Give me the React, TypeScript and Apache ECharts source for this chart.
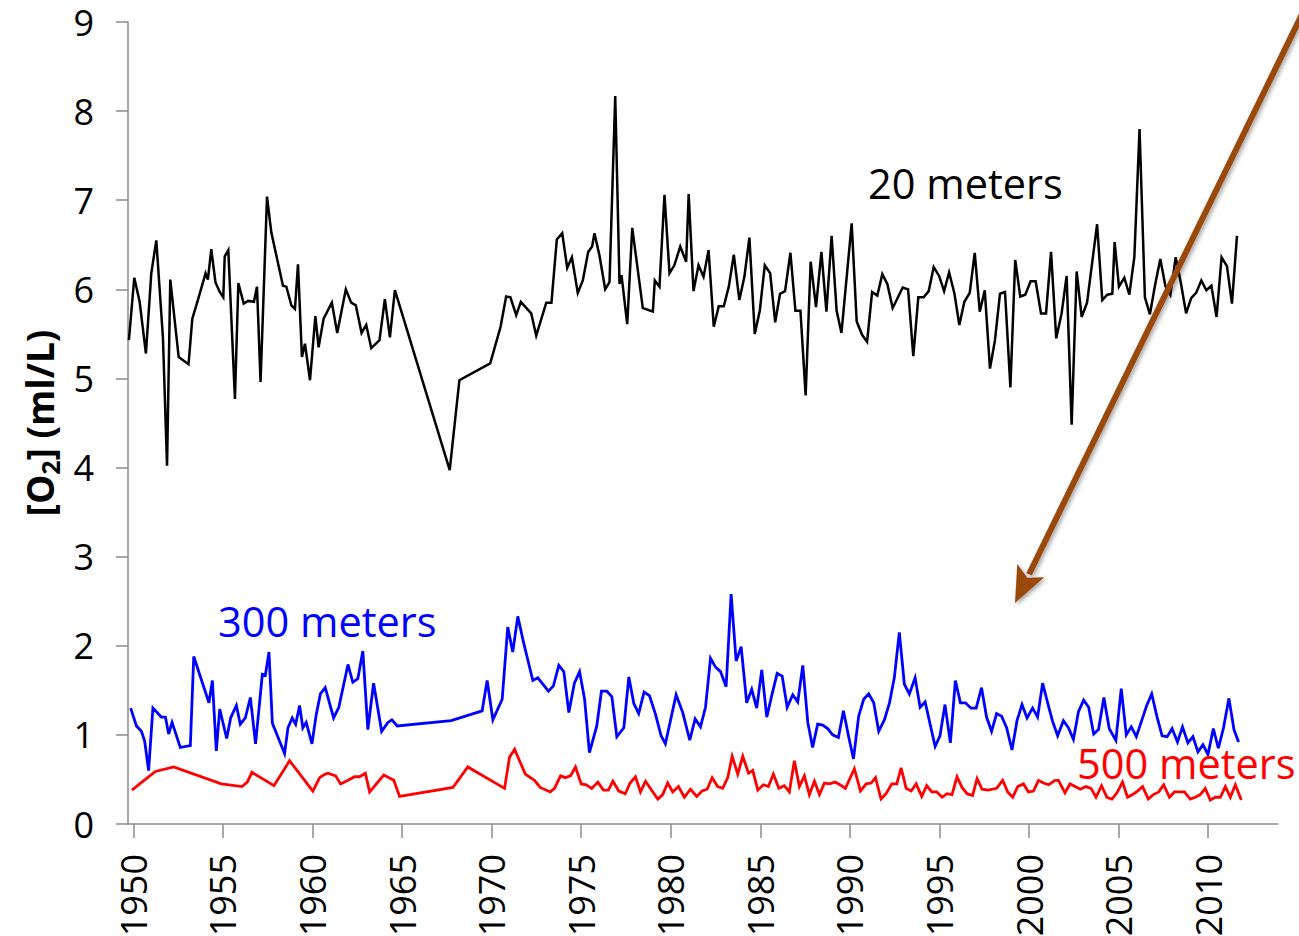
import React, { useEffect, useRef } from "react";
import * as echarts from "echarts";

// Year ticks shown on the horizontal axis
const yearTicks = [1950, 1955, 1960, 1965, 1970, 1975, 1980, 1985, 1990, 1995, 2000, 2005, 2010];

// Dissolved oxygen at 20 m depth
const o2At20mYears = [
  1949.75, 1950.05, 1950.35, 1950.7, 1951.0, 1951.28, 1951.65, 1951.88, 1952.06, 1952.53, 1953.08, 1953.29,
  1953.6, 1954.03, 1954.16, 1954.35, 1954.58, 1954.82, 1955.02, 1955.1, 1955.3, 1955.67, 1955.86, 1956.16,
  1956.4, 1956.73, 1956.9, 1957.1, 1957.46, 1957.7, 1958.35, 1958.54, 1958.82, 1959.02, 1959.19, 1959.41,
  1959.58, 1959.86, 1960.16, 1960.34, 1960.62, 1961.08, 1961.38, 1961.86, 1962.16, 1962.42, 1962.74, 1963.0,
  1963.28, 1963.74, 1964.04, 1964.32, 1964.6, 1967.66, 1968.2, 1969.92, 1970.5, 1970.81, 1971.05, 1971.37,
  1971.63, 1972.21, 1972.49, 1973.05, 1973.34, 1973.64, 1973.94, 1974.22, 1974.48, 1974.81, 1975.09, 1975.39,
  1975.61, 1975.74, 1976.02, 1976.34, 1976.58, 1976.9, 1977.14, 1977.25, 1977.57, 1977.85, 1978.44, 1979.0,
  1979.11, 1979.37, 1979.65, 1979.93, 1980.2, 1980.53, 1980.86, 1981.0, 1981.27, 1981.55, 1981.83, 1982.11,
  1982.4, 1982.68, 1982.96, 1983.24, 1983.52, 1983.83, 1984.11, 1984.39, 1984.69, 1984.97, 1985.25, 1985.55,
  1985.83, 1986.1, 1986.38, 1986.68, 1986.96, 1987.24, 1987.53, 1987.81, 1988.11, 1988.41, 1988.69, 1988.98,
  1989.26, 1989.53, 1990.1, 1990.38, 1990.68, 1990.96, 1991.24, 1991.53, 1991.81, 1992.09, 1992.39, 1992.95,
  1993.25, 1993.54, 1993.82, 1994.12, 1994.4, 1994.68, 1994.98, 1995.26, 1995.54, 1995.83, 1996.11, 1996.39,
  1996.69, 1996.97, 1997.25, 1997.53, 1997.82, 1998.1, 1998.38, 1998.66, 1998.96, 1999.23, 1999.51, 1999.79,
  2000.09, 2000.37, 2000.67, 2000.95, 2001.23, 2001.52, 2001.82, 2002.1, 2002.38, 2002.66, 2002.94, 2003.24,
  2003.52, 2003.8, 2004.09, 2004.37, 2004.65, 2004.78, 2005.02, 2005.32, 2005.6, 2005.88, 2006.17, 2006.47,
  2006.75, 2007.03, 2007.33, 2007.61, 2007.89, 2008.19, 2008.47, 2008.77, 2009.05, 2009.33, 2009.62, 2009.9,
  2010.18, 2010.47, 2010.75, 2011.05, 2011.33, 2011.61,
];
const o2At20mValues = [
  5.43, 6.13, 5.86, 5.28, 6.18, 6.55, 5.46, 4.02, 6.11, 5.24, 5.16, 5.67,
  5.88, 6.18, 6.11, 6.45, 6.08, 5.97, 5.91, 6.37, 6.44, 4.77, 6.07, 5.84,
  5.87, 5.86, 6.03, 4.96, 7.04, 6.64, 6.04, 6.03, 5.82, 5.78, 6.28, 5.24,
  5.39, 4.98, 5.7, 5.35, 5.67, 5.85, 5.51, 6.0, 5.85, 5.82, 5.51, 5.6,
  5.34, 5.43, 5.89, 5.46, 5.99, 3.97, 4.98, 5.17, 5.58, 5.92, 5.91, 5.71,
  5.86, 5.73, 5.48, 5.85, 5.85, 6.56, 6.63, 6.24, 6.36, 5.96, 6.1, 6.42,
  6.48, 6.63, 6.38, 6.0, 6.08, 8.17, 6.06, 6.16, 5.61, 6.69, 5.79, 5.75,
  6.1, 6.03, 7.06, 6.18, 6.27, 6.48, 6.31, 7.07, 5.98, 6.27, 6.14, 6.44,
  5.58, 5.81, 5.81, 6.03, 6.39, 5.88, 6.14, 6.58, 5.5, 5.76, 6.27, 6.18,
  5.63, 5.95, 5.98, 6.41, 5.76, 5.76, 4.81, 6.31, 5.8, 6.42, 5.75, 6.6,
  5.76, 5.51, 6.74, 5.64, 5.49, 5.41, 5.97, 5.93, 6.17, 6.06, 5.79, 6.02,
  6.0, 5.25, 5.91, 5.91, 5.98, 6.25, 6.15, 5.98, 6.19, 5.96, 5.6, 5.86,
  5.96, 6.41, 5.75, 5.99, 5.11, 5.43, 5.95, 5.97, 4.9, 6.33, 5.92, 5.94,
  6.09, 6.09, 5.73, 5.73, 6.42, 5.45, 5.73, 6.15, 4.48, 6.2, 5.69, 5.85,
  6.29, 6.73, 5.88, 5.94, 5.95, 6.53, 6.03, 6.13, 5.94, 6.36, 7.8, 5.91,
  5.72, 6.04, 6.34, 6.04, 5.94, 6.36, 6.08, 5.73, 5.9, 5.96, 6.1, 5.99,
  6.04, 5.69, 6.36, 6.26, 5.84, 6.6,
];

// Dissolved oxygen at 300 m depth
const o2At300mYears = [
  1949.85, 1950.17, 1950.45, 1950.63, 1950.85, 1951.09, 1951.56, 1951.79, 1951.97, 1952.16, 1952.62, 1953.18,
  1953.37, 1954.22, 1954.41, 1954.63, 1954.82, 1955.21, 1955.43, 1955.75, 1955.97, 1956.25, 1956.53, 1956.82,
  1957.2, 1957.37, 1957.57, 1957.76, 1958.44, 1958.63, 1958.87, 1959.06, 1959.28, 1959.46, 1959.65, 1959.97,
  1960.21, 1960.44, 1960.71, 1961.18, 1961.47, 1961.98, 1962.25, 1962.53, 1962.81, 1963.09, 1963.41, 1963.86,
  1964.21, 1964.43, 1964.73, 1967.74, 1969.47, 1969.75, 1970.07, 1970.59, 1970.9, 1971.18, 1971.46, 1971.78,
  1972.3, 1972.58, 1973.17, 1973.45, 1973.75, 1974.03, 1974.31, 1974.62, 1974.91, 1975.19, 1975.46, 1975.87,
  1976.13, 1976.43, 1976.71, 1976.99, 1977.38, 1977.66, 1977.94, 1978.21, 1978.51, 1978.81, 1979.15, 1979.46,
  1979.7, 1980.3, 1980.67, 1981.06, 1981.36, 1981.66, 1981.94, 1982.22, 1982.5, 1982.78, 1983.09, 1983.37,
  1983.65, 1983.93, 1984.24, 1984.52, 1984.8, 1985.08, 1985.36, 1985.66, 1985.94, 1986.22, 1986.5, 1986.81,
  1987.09, 1987.37, 1987.65, 1987.92, 1988.2, 1988.48, 1988.76, 1989.04, 1989.36, 1989.64, 1989.92, 1990.2,
  1990.49, 1990.77, 1991.05, 1991.33, 1991.61, 1991.93, 1992.21, 1992.48, 1992.76, 1993.04, 1993.32, 1993.64,
  1993.92, 1994.2, 1994.48, 1994.76, 1995.03, 1995.31, 1995.61, 1995.89, 1996.17, 1996.45, 1996.76, 1997.05,
  1997.35, 1997.63, 1997.91, 1998.19, 1998.47, 1998.75, 1999.05, 1999.33, 1999.61, 1999.89, 2000.2, 2000.48,
  2000.76, 2001.04, 2001.32, 2001.6, 2001.92, 2002.2, 2002.48, 2002.76, 2003.05, 2003.33, 2003.61, 2003.88,
  2004.18, 2004.48, 2004.85, 2005.15, 2005.43, 2005.71, 2005.99, 2006.29, 2006.57, 2006.85, 2007.15, 2007.43,
  2007.71, 2007.99, 2008.29, 2008.57, 2008.87, 2009.15, 2009.43, 2009.71, 2009.99, 2010.29, 2010.57, 2010.86,
  2011.16, 2011.44, 2011.7,
];
const o2At300mValues = [
  1.3, 1.1, 1.04, 0.93, 0.6, 1.3, 1.2, 1.2, 1.01, 1.14, 0.86, 0.88,
  1.88, 1.36, 1.61, 0.82, 1.29, 0.96, 1.19, 1.33, 1.12, 1.19, 1.42, 0.9,
  1.68, 1.67, 1.93, 1.13, 0.79, 1.08, 1.19, 1.12, 1.33, 1.08, 1.14, 0.9,
  1.23, 1.46, 1.53, 1.19, 1.31, 1.79, 1.59, 1.63, 1.94, 1.06, 1.58, 1.04,
  1.14, 1.17, 1.1, 1.16, 1.27, 1.61, 1.17, 1.4, 2.21, 1.93, 2.33, 2.04,
  1.61, 1.64, 1.49, 1.55, 1.78, 1.71, 1.25, 1.58, 1.71, 1.4, 0.8, 1.1,
  1.49, 1.49, 1.43, 0.98, 1.08, 1.65, 1.35, 1.24, 1.48, 1.44, 1.23, 0.99,
  0.9, 1.45, 1.25, 0.94, 1.18, 1.09, 1.31, 1.86, 1.76, 1.71, 1.54, 2.58,
  1.83, 1.99, 1.36, 1.51, 1.3, 1.73, 1.2, 1.46, 1.69, 1.66, 1.31, 1.45,
  1.37, 1.78, 1.14, 0.86, 1.12, 1.11, 1.07, 1.0, 0.97, 1.27, 0.99, 0.73,
  1.21, 1.4, 1.46, 1.36, 1.04, 1.17, 1.36, 1.64, 2.15, 1.57, 1.46, 1.64,
  1.31, 1.37, 1.12, 0.87, 0.99, 1.34, 0.91, 1.61, 1.36, 1.36, 1.3, 1.3,
  1.53, 1.2, 1.04, 1.24, 1.21, 1.08, 0.83, 1.16, 1.34, 1.19, 1.3, 1.2,
  1.58, 1.36, 1.15, 0.99, 1.16, 1.08, 0.95, 1.26, 1.39, 1.31, 1.01, 1.06,
  1.42, 1.07, 0.94, 1.52, 1.0, 1.09, 0.98, 1.16, 1.33, 1.46, 1.2, 0.99,
  0.98, 1.07, 0.92, 1.09, 0.91, 0.98, 0.81, 0.89, 0.78, 1.07, 0.85, 1.08,
  1.41, 1.06, 0.92,
];

// Dissolved oxygen at 500 m depth
const o2At500mYears = [
  1949.92, 1950.35, 1951.23, 1952.25, 1954.91, 1956.06, 1956.36, 1956.62, 1957.85, 1958.72, 1960.02, 1960.4,
  1960.62, 1960.86, 1961.29, 1961.57, 1961.98, 1962.35, 1962.63, 1962.95, 1963.19, 1963.98, 1964.54, 1964.86,
  1967.84, 1968.67, 1970.72, 1971.0, 1971.28, 1971.88, 1972.39, 1972.71, 1973.27, 1973.51, 1973.85, 1974.11,
  1974.4, 1974.68, 1975.0, 1975.28, 1975.59, 1975.93, 1976.24, 1976.52, 1976.77, 1977.1, 1977.46, 1977.73,
  1978.03, 1978.31, 1978.59, 1979.0, 1979.28, 1979.55, 1979.83, 1980.11, 1980.43, 1980.76, 1981.1, 1981.45,
  1981.75, 1982.03, 1982.31, 1982.62, 1982.9, 1983.18, 1983.43, 1983.74, 1984.02, 1984.34, 1984.58, 1984.86,
  1985.17, 1985.45, 1985.73, 1986.03, 1986.34, 1986.62, 1986.9, 1987.18, 1987.46, 1987.74, 1988.02, 1988.3,
  1988.58, 1988.86, 1989.17, 1989.45, 1989.75, 1990.25, 1990.59, 1990.91, 1991.19, 1991.43, 1991.74, 1992.02,
  1992.34, 1992.62, 1992.86, 1993.14, 1993.42, 1993.7, 1994.01, 1994.29, 1994.57, 1994.85, 1995.15, 1995.42,
  1995.7, 1995.98, 1996.26, 1996.54, 1996.85, 1997.1, 1997.38, 1997.72, 1998.19, 1998.53, 1998.81, 1999.09,
  1999.37, 1999.69, 1999.97, 2000.25, 2000.53, 2000.81, 2001.09, 2001.45, 2001.64, 2002.01, 2002.29, 2002.58,
  2002.86, 2003.18, 2003.46, 2003.74, 2004.05, 2004.35, 2004.63, 2004.91, 2005.22, 2005.5, 2005.78, 2006.06,
  2006.34, 2006.66, 2006.94, 2007.24, 2007.52, 2007.84, 2008.12, 2008.4, 2008.68, 2009.0, 2009.28, 2009.56,
  2009.84, 2010.12, 2010.4, 2010.68, 2010.96, 2011.24, 2011.52, 2011.85,
];
const o2At500mValues = [
  0.38, 0.45, 0.59, 0.64, 0.45, 0.42, 0.47, 0.58, 0.43, 0.71, 0.37, 0.52,
  0.55, 0.57, 0.54, 0.45, 0.49, 0.53, 0.53, 0.57, 0.36, 0.55, 0.49, 0.31,
  0.41, 0.64, 0.4, 0.75, 0.84, 0.56, 0.49, 0.41, 0.36, 0.4, 0.54, 0.52,
  0.54, 0.64, 0.45, 0.44, 0.4, 0.47, 0.38, 0.38, 0.48, 0.37, 0.34, 0.46,
  0.53, 0.36, 0.48, 0.36, 0.28, 0.33, 0.46, 0.36, 0.42, 0.3, 0.39, 0.31,
  0.37, 0.39, 0.52, 0.42, 0.4, 0.52, 0.76, 0.56, 0.76, 0.57, 0.6, 0.38,
  0.44, 0.42, 0.56, 0.4, 0.43, 0.36, 0.71, 0.42, 0.54, 0.33, 0.48, 0.33,
  0.46, 0.45, 0.47, 0.44, 0.4, 0.62, 0.37, 0.45, 0.46, 0.52, 0.28, 0.34,
  0.45, 0.45, 0.63, 0.4, 0.37, 0.45, 0.31, 0.43, 0.36, 0.36, 0.3, 0.34,
  0.33, 0.53, 0.41, 0.34, 0.32, 0.51, 0.39, 0.38, 0.4, 0.49, 0.36, 0.3,
  0.42, 0.45, 0.36, 0.37, 0.49, 0.46, 0.44, 0.49, 0.49, 0.35, 0.45, 0.42,
  0.39, 0.42, 0.4, 0.3, 0.43, 0.3, 0.28, 0.35, 0.47, 0.3, 0.33, 0.37,
  0.42, 0.28, 0.33, 0.36, 0.44, 0.3, 0.36, 0.36, 0.36, 0.28, 0.3, 0.33,
  0.4, 0.27, 0.3, 0.3, 0.42, 0.3, 0.44, 0.27,
];

const FONT = '"Open Sans", "Noto Sans", sans-serif';
const AXIS_GRAY = "#8c8c8c";

function zip(xs: number[], ys: number[]): number[][] {
  return xs.map((x, i) => [x, ys[i]]);
}

function depthSeries(name: string, color: string, xs: number[], ys: number[], width: number) {
  return {
    name,
    type: "line",
    data: zip(xs, ys),
    showSymbol: false,
    symbol: "none",
    lineStyle: { color, width, join: "miter" },
    z: 3,
  };
}

// Brown arrow pointing down toward the deep-water decline
const arrowStart = [1306, 6];
const arrowTip = [1015, 603];
const headLen = 36;
const headHalf = 15;

function arrowGraphics() {
  const dx = arrowTip[0] - arrowStart[0];
  const dy = arrowTip[1] - arrowStart[1];
  const len = Math.hypot(dx, dy);
  const ux = dx / len;
  const uy = dy / len;
  const bx = arrowTip[0] - ux * headLen;
  const by = arrowTip[1] - uy * headLen;
  const px = -uy;
  const py = ux;
  const color = "#9a4a0c";
  const shadow = { shadowBlur: 4, shadowColor: "rgba(0,0,0,0.35)", shadowOffsetX: 2, shadowOffsetY: 2 };
  return [
    {
      type: "line",
      shape: { x1: arrowStart[0], y1: arrowStart[1], x2: bx + ux * 4, y2: by + uy * 4 },
      style: { stroke: color, lineWidth: 6, ...shadow },
      z: 10,
    },
    {
      type: "polygon",
      shape: {
        points: [
          [arrowTip[0], arrowTip[1]],
          [bx + px * headHalf, by + py * headHalf],
          [bx + ux * 8, by + uy * 8],
          [bx - px * headHalf, by - py * headHalf],
        ],
      },
      style: { fill: color, ...shadow },
      z: 10,
    },
  ];
}

export default function App() {
  const ref = useRef<HTMLDivElement>(null);

  useEffect(() => {
    if (!ref.current) return;
    const chart = echarts.init(ref.current, null, { renderer: "svg" });
    chart.setOption({
      animation: false,
      backgroundColor: "#ffffff",
      grid: {
        left: 128,
        right: 21,
        top: 22,
        bottom: 112,
        containLabel: false,
        outerBoundsMode: "none",
      },
      xAxis: {
        type: "value",
        min: 1949.7,
        max: 2013.9,
        axisLine: { show: true, onZero: false, lineStyle: { color: AXIS_GRAY, width: 1.5 } },
        axisTick: { show: true, length: 14, customValues: yearTicks, lineStyle: { color: AXIS_GRAY, width: 1.5 } },
        axisLabel: {
          customValues: yearTicks,
          formatter: (v: number) => String(Math.round(v)),
          rotate: 90,
          margin: 30,
          fontSize: 36,
          fontFamily: FONT,
          color: "#000",
        },
        splitLine: { show: false },
      },
      yAxis: {
        type: "value",
        min: 0,
        max: 9,
        interval: 1,
        axisLine: { show: true, lineStyle: { color: AXIS_GRAY, width: 1.5 } },
        axisTick: { show: true, length: 12, lineStyle: { color: AXIS_GRAY, width: 1.5 } },
        axisLabel: { margin: 34, fontSize: 36, lineHeight: 30, fontFamily: FONT, color: "#000" },
        splitLine: { show: false },
        name: "{main|[O}{sub|2}{main|] (ml/L)}",
        nameLocation: "middle",
        nameRotate: 90,
        nameGap: 64,
        nameTextStyle: {
          fontFamily: FONT,
          fontWeight: "bold",
          color: "#000",
          rich: {
            main: { fontSize: 37, fontWeight: "bold", fontFamily: FONT, color: "#000", lineHeight: 46 },
            sub: {
              fontSize: 25,
              fontWeight: "bold",
              fontFamily: FONT,
              color: "#000",
              lineHeight: 26,
              verticalAlign: "bottom",
            },
          },
        },
      },
      series: [
        depthSeries("20 meters", "#000000", o2At20mYears, o2At20mValues, 2.5),
        depthSeries("300 meters", "#0000ff", o2At300mYears, o2At300mValues, 2.8),
        depthSeries("500 meters", "#ff0000", o2At500mYears, o2At500mValues, 2.8),
      ],
      graphic: [
        {
          type: "text",
          x: 868,
          y: 183,
          style: { text: "20 meters", font: `41.5px ${FONT}`, fill: "#000", verticalAlign: "middle" },
          z: 5,
        },
        {
          type: "text",
          x: 218,
          y: 621,
          style: { text: "300 meters", font: `41.5px ${FONT}`, fill: "#0000ff", verticalAlign: "middle" },
          z: 5,
        },
        {
          type: "text",
          x: 1077,
          y: 763,
          style: { text: "500 meters", font: `41.5px ${FONT}`, fill: "#ff0000", verticalAlign: "middle" },
          z: 5,
        },
        ...arrowGraphics(),
      ],
    });
    return () => chart.dispose();
  }, []);

  return (
    <div
      ref={ref}
      style={{ position: "fixed", left: 0, top: 0, width: 1299, height: 936, background: "#fff" }}
    />
  );
}
